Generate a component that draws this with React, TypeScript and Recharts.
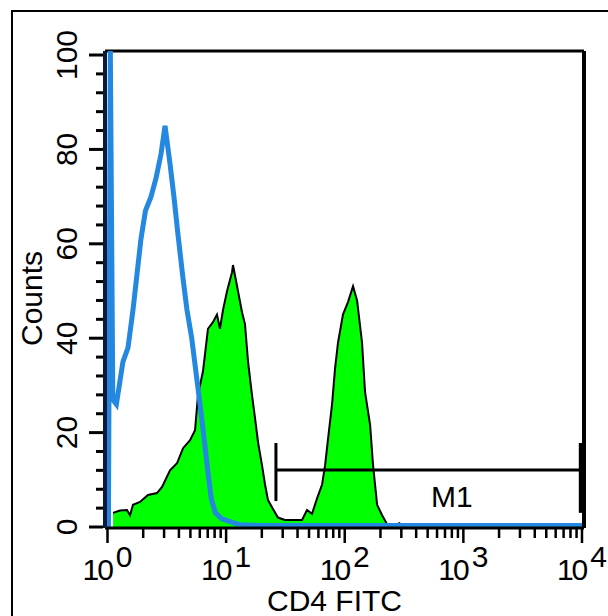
import React from "react";
import { ComposedChart, Area, Line, XAxis, YAxis, ReferenceLine, Label } from "recharts";

// fluorescence is given in decades (log10 of CD4 FITC), counts per channel
const isotypeDecade = [0.008, 0.024, 0.045, 0.075, 0.13, 0.173, 0.215, 0.282, 0.32, 0.367, 0.41, 0.451, 0.485, 0.527, 0.56, 0.594, 0.635, 0.67, 0.71, 0.755, 0.79, 0.822, 0.85, 0.875, 0.91, 0.96, 1.05, 1.12, 1.3, 1.6, 2.0, 2.5, 3.0, 3.5, 4.0];
const isotypeCounts = [0, 101, 27, 26, 35, 38, 46, 61, 67, 70, 74, 79, 85, 77, 70, 62, 53, 46, 40, 31, 24, 17, 11, 6, 3, 1.8, 1, 0.5, 0.3, 0.3, 0.3, 0.3, 0.3, 0.3, 0.3];

const cd4Decade = [0.047, 0.105, 0.164, 0.19, 0.215, 0.274, 0.341, 0.417, 0.46, 0.527, 0.586, 0.637, 0.696, 0.738, 0.763, 0.805, 0.847, 0.889, 0.923, 0.948, 0.974, 1.008, 1.05, 1.058, 1.1, 1.134, 1.159, 1.185, 1.218, 1.244, 1.269, 1.303, 1.328, 1.353, 1.395, 1.437, 1.496, 1.64, 1.682, 1.724, 1.766, 1.809, 1.834, 1.859, 1.893, 1.918, 1.943, 1.985, 2.028, 2.07, 2.104, 2.146, 2.171, 2.214, 2.239, 2.273, 2.315, 2.357, 2.42, 2.46, 2.5];
const cd4Counts = [3, 3.5, 3.6, 2.5, 4.7, 5.3, 6.8, 7.2, 8.5, 12, 13.5, 16.7, 18.4, 20.5, 28, 33, 42, 43.4, 45, 42, 46, 50, 54, 55.5, 50, 45.5, 43, 35, 28, 23, 18, 13, 9, 5.7, 3.8, 2, 1.5, 1.5, 3.6, 2.8, 6, 9, 13, 18.6, 26, 33.5, 39, 45, 47.7, 51, 48, 39, 28.6, 21.6, 13, 4.7, 2.5, 0.6, 0.3, 0.8, 0];

const decades = [0, 1, 2, 3, 4];
const countTicks = [0, 4, 8, 12, 16, 20, 24, 28, 32, 36, 40, 44, 48, 52, 56, 60, 64, 68, 72, 76, 80, 84, 88, 92, 96, 100];
const m1Range = [1.42, 3.99];
const m1Level = 12.1;

const isotypeData = isotypeDecade.map((x, i) => ({ x, count: isotypeCounts[i] }));
const cd4Data = cd4Decade.map((x, i) => ({ x, count: cd4Counts[i] }));

// log minor ticks (2..9 within each decade)
const decadeTicks: number[] = [];
decades.forEach((d) => {
  decadeTicks.push(d);
  if (d < 4) for (let k = 2; k <= 9; k++) decadeTicks.push(d + Math.log10(k));
});

const X_MIN = -0.021;
const X_MAX = 4.017;
const Y_MIN = -0.21;
const Y_MAX = 100.85;
const FONT = "'Liberation Sans', Arial, Helvetica, sans-serif";

const CountTick = (props: any) => {
  const { x, y, payload } = props;
  const major = payload.value % 20 === 0;
  const tx = x - 28;
  return (
    <g>
      <line x1={x - (major ? 16 : 9)} x2={x - 2} y1={y} y2={y} stroke="#000" strokeWidth={3} />
      {major && (
        <text x={tx} y={y} transform={`rotate(-90, ${tx}, ${y})`} textAnchor="middle" fontSize={30} fontFamily={FONT} fill="#000">
          {payload.value}
        </text>
      )}
    </g>
  );
};

const DecadeTick = (props: any) => {
  const { x, y, payload } = props;
  const major = Number.isInteger(payload.value);
  return (
    <g>
      <line x1={x} x2={x} y1={y + 1} y2={y + (major ? 15 : 10)} stroke="#000" strokeWidth={2.5} />
      {major && (
        <text x={x - 1} y={y + 52} textAnchor="middle" fontSize={30} fontFamily={FONT} fill="#000" letterSpacing={-2}>
          10
          <tspan dx={4} dy={-13}>{payload.value}</tspan>
        </text>
      )}
    </g>
  );
};

export default function App() {
  return (
    <div style={{ position: "absolute", left: 0, top: 0, width: 608, height: 616, overflow: "hidden", background: "#fff" }}>
      <div style={{ position: "absolute", left: 11, top: 10, width: 640, height: 660, borderLeft: "2px solid #000", borderTop: "2px solid #000" }} />
      <div style={{ position: "absolute", left: 0, top: 0 }}>
        <ComposedChart width={608} height={616} margin={{ top: 51, right: 24, bottom: 0, left: 0 }}>
          <XAxis
            type="number"
            dataKey="x"
            domain={[X_MIN, X_MAX]}
            allowDataOverflow
            ticks={decadeTicks}
            interval={0}
            tickSize={0}
            tickMargin={0}
            tickLine={false}
            tick={<DecadeTick />}
            height={88}
            axisLine={{ stroke: "#000", strokeWidth: 3 }}
          >
            <Label
              content={({ viewBox }: any) => (
                <text x={viewBox.x + viewBox.width / 2 - 10} y={viewBox.y + 83} textAnchor="middle" fontSize={30} fontFamily={FONT} fill="#000">
                  CD4 FITC
                </text>
              )}
            />
          </XAxis>
          <YAxis
            type="number"
            dataKey="count"
            domain={[Y_MIN, Y_MAX]}
            allowDataOverflow
            ticks={countTicks}
            interval={0}
            tickSize={0}
            tickMargin={0}
            tickLine={false}
            tick={<CountTick />}
            width={105}
            axisLine={{ stroke: "#0b1a3a", strokeWidth: 4 }}
          >
            <Label
              content={({ viewBox }: any) => {
                const cx = 42;
                const cy = viewBox.y + viewBox.height / 2 + 9;
                return (
                  <text x={cx} y={cy} transform={`rotate(-90, ${cx}, ${cy})`} textAnchor="middle" fontSize={30} fontFamily={FONT} fill="#000">
                    Counts
                  </text>
                );
              }}
            />
          </YAxis>
          <ReferenceLine y={Y_MAX} stroke="#000" strokeWidth={3} />
          <ReferenceLine x={X_MAX} stroke="#000" strokeWidth={4} />
          <Area
            data={cd4Data}
            dataKey="count"
            type="linear"
            fill="#00ff00"
            fillOpacity={1}
            stroke="#000"
            strokeWidth={2}
            dot={false}
            activeDot={false}
            isAnimationActive={false}
          />
          <Line
            data={isotypeData}
            dataKey="count"
            type="linear"
            stroke="#2488e0"
            strokeWidth={5}
            dot={false}
            activeDot={false}
            isAnimationActive={false}
          />
          <ReferenceLine
            segment={[{ x: m1Range[0], y: m1Level }, { x: m1Range[1], y: m1Level }]}
            stroke="#000"
            strokeWidth={3}
            label={
              <Label
                content={({ viewBox }: any) => (
                  <text x={viewBox.x + viewBox.width * 0.577} y={viewBox.y + 37} textAnchor="middle" fontSize={30} fontFamily={FONT} fill="#000">
                    M1
                  </text>
                )}
              />
            }
          />
          <ReferenceLine segment={[{ x: m1Range[0], y: 5.5 }, { x: m1Range[0], y: 17.8 }]} stroke="#000" strokeWidth={3} />
          <ReferenceLine segment={[{ x: m1Range[1], y: 3 }, { x: m1Range[1], y: 17.8 }]} stroke="#000" strokeWidth={4} />
        </ComposedChart>
      </div>
    </div>
  );
}
